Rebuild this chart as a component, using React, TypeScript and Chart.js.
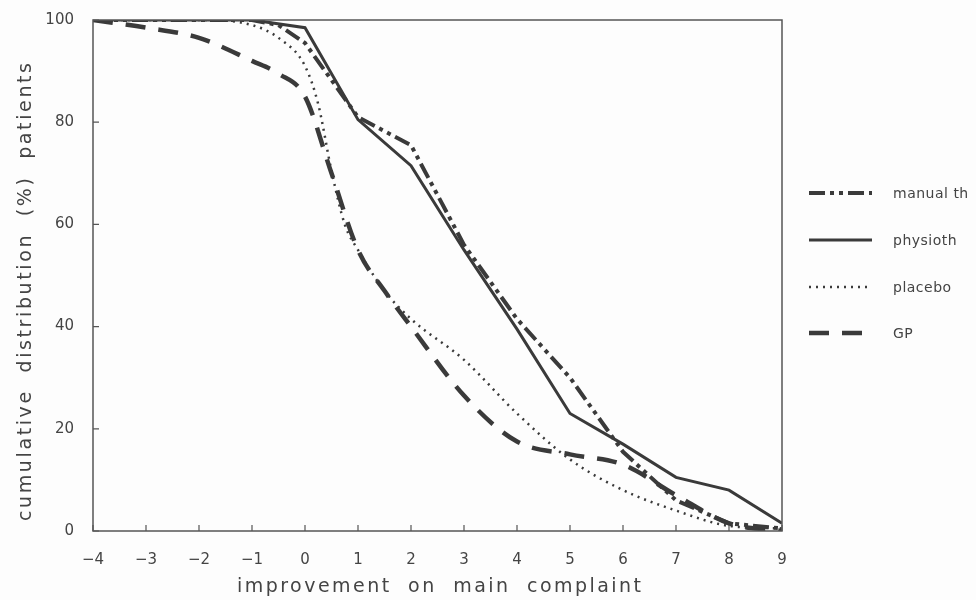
import { useEffect, useRef } from "react";
import { Chart, registerables } from "chart.js";

Chart.register(...registerables);

// ---- data ----
const xTickValues = [-4, -3, -2, -1, 0, 1, 2, 3, 4, 5, 6, 7, 8, 9];
const yTickValues = [0, 20, 40, 60, 80, 100];

const seriesNames = ["manual th", "physioth", "placebo", "GP"];

const manualX = [-4, -3, -2, -1, -0.5, 0, 1, 2, 3, 4, 5, 6, 7, 8, 9];
const manualY = [100, 100, 100, 100, 99, 95.5, 81, 75.5, 56, 41.5, 30, 15.5, 6, 1.5, 0.5];

const physioX = [-4, -3, -2, -1, 0, 1, 2, 3, 4, 5, 6, 7, 8, 9];
const physioY = [100, 100, 100, 100, 98.5, 80.5, 71.5, 55, 39.5, 23, 17, 10.5, 8, 1.5];

const placeboX = [-4, -3, -2, -1, -0.5, 0, 0.25, 0.5, 0.75, 1, 1.5, 2, 3, 4, 5, 6, 7, 8, 9];
const placeboY = [100, 100, 100, 99, 96.5, 91, 83.5, 70.5, 60, 55, 47, 41.5, 33.5, 23, 14, 8, 4, 1, 0.5];

const gpX = [-4, -3, -2, -1, -0.5, 0, 0.5, 1, 1.5, 2, 3, 4, 5, 6, 7, 8, 9];
const gpY = [100, 98.5, 96.5, 92, 89.5, 85, 70, 55, 47, 40, 26.5, 17.5, 15, 13, 7, 1.5, 0];

const xTitle = "improvement on main complaint";
const yTitle = "cumulative distribution (%) patients";

const INK = "#3a3a3a";
const TEXT = "#444";
const FONT = "'DejaVu Sans', sans-serif";

function pts(xs: number[], ys: number[]) {
  return xs.map((x, i) => ({ x, y: ys[i] }));
}

function fitText(ctx: CanvasRenderingContext2D, text: string, target: number) {
  (ctx as any).letterSpacing = "0px";
  (ctx as any).wordSpacing = "8px";
  const w = ctx.measureText(text).width;
  const ls = (target - w) / Math.max(1, text.length - 1);
  (ctx as any).letterSpacing = ls + "px";
}

const decorPlugin = {
  id: "decor",
  afterDraw(chart: any) {
    const { ctx, chartArea } = chart;
    const xs = chart.scales.x;
    const ys = chart.scales.y;
    ctx.save();
    // frame
    ctx.strokeStyle = "#555";
    ctx.lineWidth = 1.5;
    ctx.strokeRect(chartArea.left, chartArea.top, chartArea.right - chartArea.left, chartArea.bottom - chartArea.top);
    // inward ticks
    ctx.lineWidth = 1.2;
    ctx.beginPath();
    xTickValues.forEach((v) => {
      const px = xs.getPixelForValue(v);
      ctx.moveTo(px, chartArea.bottom);
      ctx.lineTo(px, chartArea.bottom - 6);
    });
    yTickValues.forEach((v) => {
      const py = ys.getPixelForValue(v);
      ctx.moveTo(chartArea.left, py);
      ctx.lineTo(chartArea.left + 6, py);
    });
    ctx.stroke();

    // legend
    const rowY = [193, 240, 287, 333];
    chart.data.datasets.forEach((ds: any, i: number) => {
      const y = rowY[i];
      ctx.save();
      ctx.strokeStyle = ds.borderColor;
      ctx.lineWidth = ds.borderWidth;
      ctx.setLineDash(ds.borderDash || []);
      ctx.beginPath();
      ctx.moveTo(809, y);
      ctx.lineTo(872, y);
      ctx.stroke();
      ctx.restore();
      ctx.fillStyle = TEXT;
      ctx.font = "14px " + FONT;
      (ctx as any).letterSpacing = "0.5px";
      ctx.textAlign = "left";
      ctx.textBaseline = "middle";
      ctx.fillText(ds.label, 893, y + 1);
    });

    // axis titles
    ctx.fillStyle = TEXT;
    ctx.font = "19px " + FONT;
    ctx.textAlign = "left";
    ctx.textBaseline = "alphabetic";
    fitText(ctx, xTitle, 404);
    ctx.fillText(xTitle, 237, 592);

    ctx.save();
    ctx.translate(31, 521);
    ctx.rotate(-Math.PI / 2);
    fitText(ctx, yTitle, 458);
    ctx.fillText(yTitle, 0, 0);
    ctx.restore();

    ctx.restore();
  },
};

export default function App() {
  const ref = useRef<HTMLCanvasElement | null>(null);

  useEffect(() => {
    if (!ref.current) return;
    const chart = new Chart(ref.current, {
      type: "line",
      data: {
        datasets: [
          {
            label: seriesNames[0],
            data: pts(manualX, manualY),
            borderColor: INK,
            borderWidth: 4,
            borderDash: [16, 5, 4, 5, 4, 5],
            pointRadius: 0,
            tension: 0,
          },
          {
            label: seriesNames[1],
            data: pts(physioX, physioY),
            borderColor: INK,
            borderWidth: 3,
            pointRadius: 0,
            tension: 0,
          },
          {
            label: seriesNames[2],
            data: pts(placeboX, placeboY),
            borderColor: INK,
            borderWidth: 2.5,
            borderDash: [2, 5],
            pointRadius: 0,
            cubicInterpolationMode: "monotone",
          },
          {
            label: seriesNames[3],
            data: pts(gpX, gpY),
            borderColor: INK,
            borderWidth: 4.5,
            borderDash: [20, 13],
            pointRadius: 0,
            cubicInterpolationMode: "monotone",
          },
        ] as any,
      },
      options: {
        animation: false,
        responsive: false,
        devicePixelRatio: 1,
        layout: { padding: { top: 14, right: 194, left: 0, bottom: 0 } },
        plugins: { legend: { display: false }, tooltip: { enabled: false } },
        scales: {
          x: {
            type: "linear",
            min: -4,
            max: 9,
            afterFit: (s: any) => {
              s.height = 69;
            },
            afterBuildTicks: (s: any) => {
              s.ticks = xTickValues.map((v) => ({ value: v }));
            },
            ticks: {
              font: { size: 15, family: FONT },
              color: TEXT,
              padding: 12,
              maxRotation: 0,
              callback: (v: any) => (Number(v) < 0 ? "\u2212" + Math.abs(Number(v)) : String(v)),
            },
            grid: { display: false },
            border: { display: false },
          },
          y: {
            type: "linear",
            min: 0,
            max: 100,
            afterFit: (s: any) => {
              s.width = 93;
            },
            afterBuildTicks: (s: any) => {
              s.ticks = yTickValues.map((v) => ({ value: v }));
            },
            ticks: {
              font: { size: 15, family: FONT },
              color: TEXT,
              padding: 11,
            },
            grid: { display: false },
            border: { display: false },
          },
        },
      },
      plugins: [decorPlugin],
    });
    return () => chart.destroy();
  }, []);

  return (
    <div style={{ position: "absolute", left: 0, top: 0, width: 976, height: 600, background: "#fdfdfd" }}>
      <canvas ref={ref} width={976} height={600} />
    </div>
  );
}
